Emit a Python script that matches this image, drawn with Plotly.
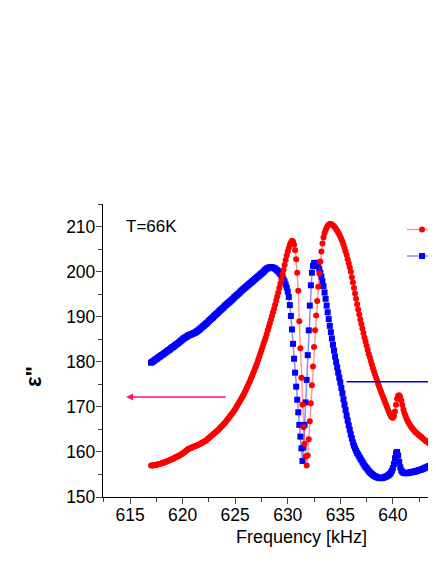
import numpy as np
import plotly.graph_objects as go

# frequency sweep, kHz (0.1 kHz steps)
freq = np.round(np.arange(617.0, 645.05, 0.1), 1)

# eps'' (red, left axis), one row per kHz
eps2_red = [
    157.0, 157.0, 157.0, 157.1, 157.1, 157.1, 157.2, 157.3, 157.3, 157.4,
    157.5, 157.6, 157.6, 157.7, 157.8, 157.9, 158.0, 158.1, 158.2, 158.3,
    158.4, 158.5, 158.6, 158.8, 158.9, 159.0, 159.1, 159.2, 159.4, 159.5,
    159.7, 159.8, 160.0, 160.2, 160.4, 160.6, 160.7, 160.8, 160.9, 161.0,
    161.1, 161.2, 161.3, 161.4, 161.5, 161.6, 161.7, 161.8, 162.0, 162.1,
    162.2, 162.4, 162.5, 162.7, 162.9, 163.1, 163.3, 163.5, 163.7, 163.9,
    164.1, 164.3, 164.5, 164.7, 164.9, 165.2, 165.4, 165.7, 165.9, 166.2,
    166.4, 166.7, 167.0, 167.3, 167.6, 167.9, 168.2, 168.5, 168.8, 169.2,
    169.5, 169.9, 170.3, 170.7, 171.1, 171.5, 171.9, 172.3, 172.7, 173.2,
    173.7, 174.2, 174.7, 175.2, 175.7, 176.3, 176.8, 177.4, 178.0, 178.6,
    179.2, 179.8, 180.5, 181.2, 181.9, 182.6, 183.3, 184.0, 184.7, 185.4,
    186.2, 187.0, 187.8, 188.6, 189.4, 190.2, 191.0, 191.8, 192.7, 193.6,
    194.5, 195.4, 196.4, 197.4, 198.4, 199.4, 200.4, 201.5, 202.6, 203.6,
    204.5, 205.3, 206.0, 206.5, 206.9, 206.7, 206.0, 204.8, 202.8, 199.8,
    195.8, 189.0, 183.0, 176.5, 170.5, 165.5, 161.8, 159.0, 157.0, 159.2,
    162.8, 166.8, 170.8, 174.8, 179.0, 183.3, 187.0, 190.3, 193.5, 196.7,
    199.6, 202.3, 204.5, 206.3, 207.6, 208.6, 209.3, 209.8, 210.2, 210.5,
    210.6, 210.6, 210.5, 210.3, 210.1, 209.8, 209.5, 209.1, 208.7, 208.3,
    207.8, 207.3, 206.7, 206.0, 205.3, 204.5, 203.7, 202.8, 201.9, 201.0,
    200.0, 198.8, 197.6, 196.4, 195.2, 194.0, 192.8, 191.6, 190.5, 189.4,
    188.4, 187.4, 186.4, 185.4, 184.5, 183.6, 182.7, 181.8, 181.0, 180.2,
    179.4, 178.6, 177.9, 177.2, 176.5, 175.8, 175.1, 174.5, 173.8, 173.2,
    172.6, 172.0, 171.4, 170.8, 170.2, 169.6, 169.0, 168.5, 168.0, 167.7,
    167.6, 168.0, 169.0, 170.5, 171.8, 172.5, 172.6, 172.2, 171.4, 170.4,
    169.4, 168.6, 168.0, 167.4, 166.9, 166.5, 166.1, 165.7, 165.4, 165.1,
    164.8, 164.5, 164.3, 164.1, 163.9, 163.7, 163.5, 163.3, 163.1, 162.9,
    162.7, 162.5, 162.3, 162.2, 162.0, 161.8, 161.6, 161.5, 161.3, 161.2,
    161.1, 161.0, 160.9, 160.8, 160.7, 160.6, 160.5, 160.4, 160.3, 160.2,
    160.1,
]

# blue curve (belongs to the right axis), as it sits on the left scale
eps_blue = [
    179.8, 180.0, 180.1, 180.3, 180.5, 180.6, 180.8, 181.0, 181.1, 181.3,
    181.5, 181.6, 181.8, 182.0, 182.1, 182.3, 182.5, 182.6, 182.8, 183.0,
    183.2, 183.3, 183.5, 183.7, 183.9, 184.0, 184.2, 184.4, 184.6, 184.8,
    185.0, 185.2, 185.3, 185.5, 185.6, 185.8, 185.9, 186.0, 186.1, 186.2,
    186.3, 186.4, 186.5, 186.7, 186.8, 187.0, 187.2, 187.4, 187.6, 187.8,
    188.0, 188.2, 188.4, 188.6, 188.8, 189.1, 189.3, 189.5, 189.7, 189.9,
    190.2, 190.4, 190.6, 190.8, 191.0, 191.3, 191.5, 191.7, 191.9, 192.1,
    192.4, 192.6, 192.8, 193.0, 193.2, 193.4, 193.6, 193.8, 194.0, 194.3,
    194.5, 194.7, 194.9, 195.1, 195.3, 195.6, 195.8, 196.0, 196.2, 196.4,
    196.6, 196.8, 197.0, 197.2, 197.4, 197.6, 197.8, 198.0, 198.2, 198.4,
    198.6, 198.8, 199.0, 199.2, 199.4, 199.6, 199.8, 200.0, 200.3, 200.5,
    200.7, 200.8, 200.9, 201.0, 201.0, 201.0, 200.9, 200.8, 200.7, 200.5,
    200.3, 200.1, 199.8, 199.5, 199.2, 198.8, 198.3, 197.8, 197.2, 196.5,
    195.6, 194.4, 192.6, 190.2, 187.2, 184.0, 180.7, 177.6, 174.5, 171.6,
    168.8, 166.0, 163.4, 160.8, 158.0, 161.0, 166.0, 171.0, 176.0, 181.5,
    187.0, 192.5, 197.0, 199.8, 201.3, 201.9, 202.0, 201.9, 201.6, 201.2,
    200.6, 199.8, 198.9, 197.9, 196.8, 195.4, 194.0, 192.5, 191.0, 189.5,
    188.0, 186.6, 185.2, 183.8, 182.5, 181.2, 180.0, 178.8, 177.6, 176.5,
    175.4, 174.2, 173.0, 171.7, 170.5, 169.3, 168.1, 167.0, 165.9, 164.9,
    163.9, 163.0, 162.1, 161.4, 160.8, 160.3, 159.8, 159.4, 159.0, 158.6,
    158.2, 157.8, 157.4, 157.0, 156.7, 156.4, 156.1, 155.8, 155.5, 155.3,
    155.1, 154.9, 154.7, 154.6, 154.5, 154.4, 154.3, 154.2, 154.2, 154.2,
    154.2, 154.3, 154.4, 154.5, 154.6, 154.7, 154.9, 155.1, 155.4, 155.8,
    156.4, 157.3, 158.6, 159.7, 160.0, 159.2, 157.8, 156.6, 155.9, 155.6,
    155.4, 155.3, 155.3, 155.3, 155.3, 155.4, 155.4, 155.5, 155.5, 155.6,
    155.6, 155.7, 155.7, 155.8, 155.9, 156.0, 156.0, 156.1, 156.2, 156.3,
    156.4, 156.5, 156.6, 156.7, 156.8, 156.9, 157.0, 157.1, 157.2, 157.3,
    157.4, 157.5, 157.6, 157.7, 157.8, 157.9, 158.0, 158.1, 158.2, 158.3,
    158.4,
]

assert len(eps2_red) == len(freq) and len(eps_blue) == len(freq)

x_ticks = [615, 620, 625, 630, 635, 640, 645]
y_ticks = [150, 160, 170, 180, 190, 200, 210]
x_range = [612.43, 644.1]
y_range = [150, 215.05]

FONT = "Liberation Sans, Arial, sans-serif"

fig = go.Figure()

fig.add_trace(go.Scatter(x=freq, y=eps_blue, mode='lines+markers', name="ε'",
                         line=dict(color='rgba(0,0,255,0.45)', width=1.5),
                         marker=dict(symbol='square', size=6, color='#0000ff'),
                         legendrank=2))
fig.add_trace(go.Scatter(x=freq, y=eps2_red, mode='lines+markers', name='ε"',
                         line=dict(color='rgba(255,0,0,0.4)', width=1.5),
                         marker=dict(symbol='circle', size=6, color='#ff0000'),
                         legendrank=1))

# bottom axis, ticks out
fig.update_xaxes(range=x_range, tickvals=x_ticks, ticks='outside', ticklen=6, tickwidth=1.3,
                 ticklabelstandoff=-4,
                 showline=True, linecolor='black', linewidth=1.3, showgrid=False, zeroline=False,
                 minor=dict(dtick=2.5, tick0=615, ticks='outside', ticklen=3.5, tickwidth=1.3),
                 tickfont=dict(family=FONT, size=17.5, color='black'))
fig.update_yaxes(range=y_range, tickvals=y_ticks, ticks='outside', ticklen=6, tickwidth=1.3,
                 ticklabelstandoff=-3,
                 showline=True, linecolor='black', linewidth=1.3, showgrid=False, zeroline=False,
                 minor=dict(dtick=5, tick0=150, ticks='outside', ticklen=3.5, tickwidth=1.3),
                 tickfont=dict(family=FONT, size=17.5, color='black'))

# top axis, ticks in
fig.update_layout(xaxis2=dict(overlaying='x', matches='x', side='top', anchor='y',
                              range=x_range, tickvals=x_ticks, ticks='inside', ticklen=6, tickwidth=1.3,
                              showticklabels=False, showline=True, linecolor='black', linewidth=1.3,
                              showgrid=False, zeroline=False,
                              minor=dict(dtick=2.5, tick0=615, ticks='inside', ticklen=3.5, tickwidth=1.3)))

# arrows: red -> left axis, blue -> right axis
fig.add_annotation(x=614.62, y=172.2, ax=624.25, ay=172.2, xref='x', yref='y', axref='x', ayref='y',
                   text='', showarrow=True, arrowhead=2, arrowsize=1.1, arrowwidth=1.3,
                   arrowcolor='#f5157f')
fig.add_shape(type='line', x0=635.6, x1=x_range[1], y0=175.6, y1=175.6, xref='x', yref='y',
              line=dict(color='#0000e6', width=1.4))

fig.add_annotation(x=0.064, y=0.922, xref='paper', yref='paper', text='T=66K', showarrow=False,
                   xanchor='left', yanchor='middle', font=dict(family=FONT, size=17, color='black'))

# axis titles placed by hand (the full figure is wider than the crop)
fig.add_annotation(x=(301 - 103) / 333, y=-0.1365, xref='paper', yref='paper', text='Frequency [kHz]',
                   showarrow=False, xanchor='center', yanchor='middle',
                   font=dict(family=FONT, size=18, color='black'))
fig.add_annotation(x=-0.207, y=0.41, xref='paper', yref='paper', text='<b>ε"</b>', textangle=-90,
                   showarrow=False, xanchor='center', yanchor='middle',
                   font=dict(family=FONT, size=22, color='black'))
# sliver of the 645 label at the crop edge
fig.add_annotation(x=(645 - x_range[0]) / (x_range[1] - x_range[0]), y=-0.03, xref='paper', yref='paper',
                   text='645', showarrow=False, xanchor='center', yanchor='top',
                   font=dict(family=FONT, size=17.5, color='black'))

# page body keeps its 8px margin, so the figure is 8px smaller each way
fig.update_layout(width=428, height=556,
                  margin=dict(l=95, r=0, t=196, b=67, autoexpand=False),
                  plot_bgcolor='white', paper_bgcolor='white',
                  showlegend=True,
                  legend=dict(x=0.898, y=0.975, xanchor='left', yanchor='top',
                              bgcolor='rgba(0,0,0,0)', font=dict(family=FONT, size=18, color='black')))

fig.write_html("out.html")
